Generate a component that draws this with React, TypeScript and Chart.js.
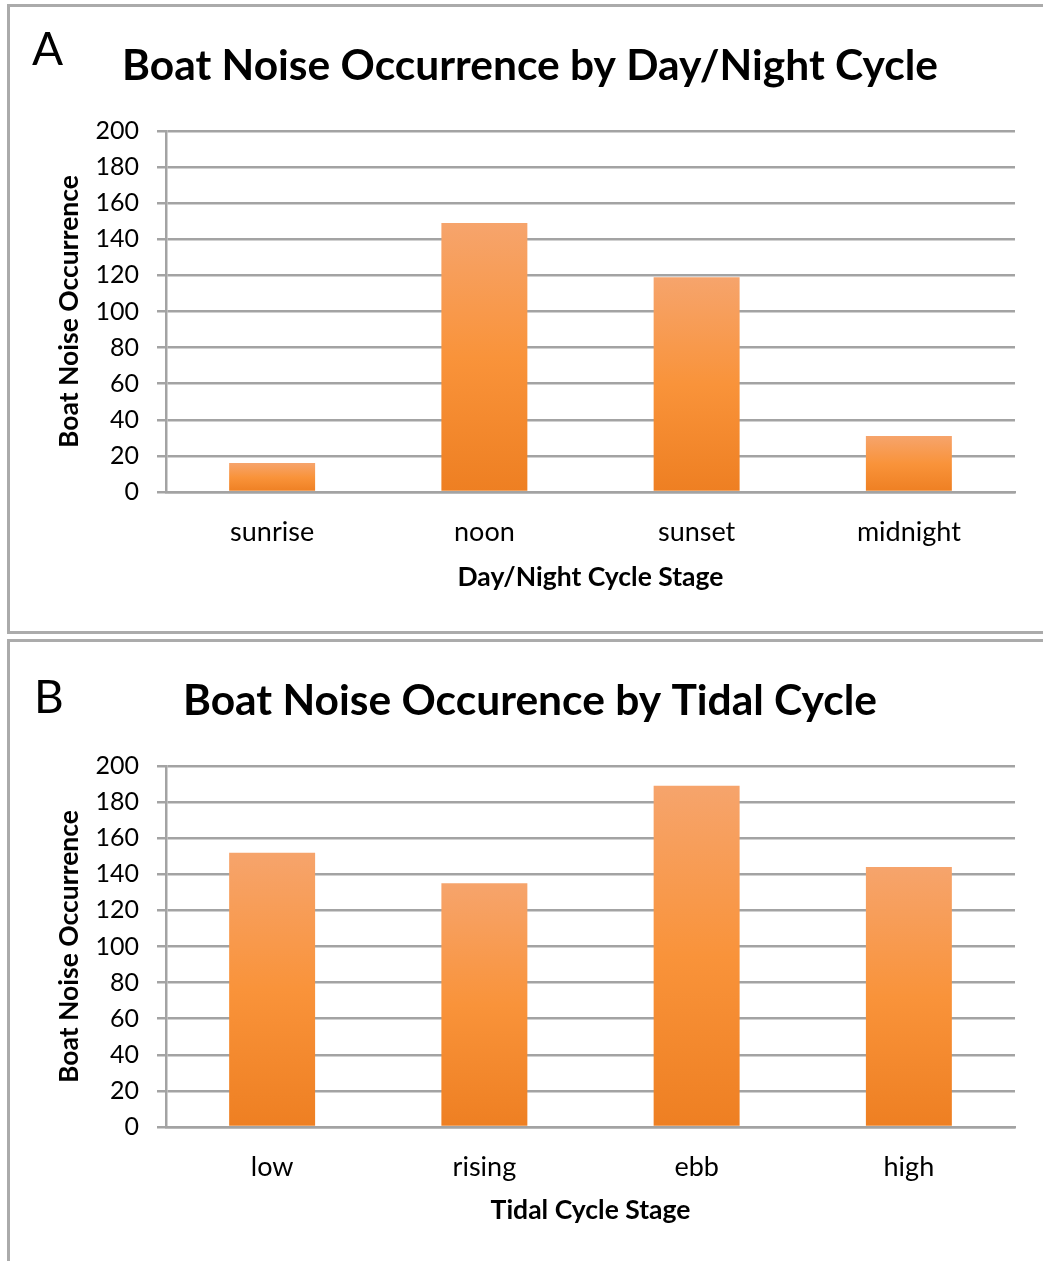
import React, { useEffect, useRef } from "react";
import { Chart, registerables } from "chart.js";

Chart.register(...registerables);

const dayCategories = ["sunrise", "noon", "sunset", "midnight"];
const dayValues = [16, 149, 119, 31];
const tideCategories = ["low", "rising", "ebb", "high"];
const tideValues = [152, 135, 189, 144];
const yMin = 0;
const yMax = 200;
const yStep = 20;

const FONT = "Lato, 'Open Sans', sans-serif";
const GRID = "#a3a3a3";
const PAD_LEFT = 35;

type PanelProps = {
  title: string;
  categories: string[];
  values: number[];
  xTitle: string;
  yTitle: string;
  width: number;
  height: number;
};

function BarPanel({ title, categories, values, xTitle, yTitle, width, height }: PanelProps) {
  const ref = useRef<HTMLCanvasElement | null>(null);
  useEffect(() => {
    if (!ref.current) return;
    const chart = new Chart(ref.current, {
      type: "bar",
      data: {
        labels: categories,
        datasets: [
          {
            data: values,
            barPercentage: 0.405,
            categoryPercentage: 1,
            borderWidth: 0,
            backgroundColor: (ctx: any) => {
              const c = ctx.chart;
              const y = c.scales && c.scales.y;
              if (!y || ctx.type !== "data") return "#f8923a";
              const top = y.getPixelForValue(ctx.raw as number);
              const bottom = y.getPixelForValue(0);
              if (!isFinite(top) || !isFinite(bottom) || top === bottom) return "#f8923a";
              const g = c.ctx.createLinearGradient(0, top, 0, bottom);
              g.addColorStop(0, "#f6a46c");
              g.addColorStop(0.5, "#f9933a");
              g.addColorStop(1, "#ee7f22");
              return g;
            },
          },
        ],
      },
      options: {
        responsive: false,
        maintainAspectRatio: false,
        animation: false,
        layout: { padding: { left: PAD_LEFT, right: 25, top: 0, bottom: 0 } },
        plugins: {
          legend: { display: false },
          tooltip: { enabled: false },
          title: {
            display: true,
            text: title,
            color: "#000",
            font: { family: FONT, size: 42.5, weight: "bold" },
            padding: { top: 33, bottom: 39 },
          },
        },
        scales: {
          x: {
            grid: { display: false },
            border: { display: true, color: GRID, width: 2.5 },
            ticks: {
              color: "#000",
              font: { family: FONT, size: 27 },
              padding: 16,
            },
            title: {
              display: true,
              text: xTitle,
              color: "#000",
              font: { family: FONT, size: 26.5, weight: "bold" },
              padding: { top: 0, bottom: 35 },
            },
            afterFit: (scale: any) => {
              scale.height = height - 484;
            },
          },
          y: {
            min: yMin,
            max: yMax,
            ticks: {
              stepSize: yStep,
              color: "#000",
              font: { family: FONT, size: 25 },
              padding: 18,
            },
            grid: { color: GRID, lineWidth: 2.5, tickLength: 9, drawTicks: true },
            border: { display: true, color: GRID, width: 2.5 },
            title: {
              display: true,
              text: yTitle,
              color: "#000",
              font: { family: FONT, size: 26.5, weight: "bold" },
              padding: { top: 9, bottom: 0 },
            },
            afterFit: (scale: any) => {
              scale.width = 156 - PAD_LEFT;
            },
          },
        },
      },
    } as any);
    return () => chart.destroy();
  }, []);
  return <canvas ref={ref} width={width} height={height} style={{ width, height, display: "block" }} />;
}

export default function App() {
  const panelBorder = "3px solid #ababab";
  return (
    <div
      style={{
        position: "absolute",
        left: 0,
        top: 0,
        width: 1043,
        height: 1261,
        overflow: "hidden",
        background: "#fff",
        fontFamily: FONT,
      }}
    >
      <div
        style={{
          position: "absolute",
          left: 7,
          top: 4,
          width: 1060,
          height: 630,
          boxSizing: "border-box",
          border: panelBorder,
        }}
      />
      <div
        style={{
          position: "absolute",
          left: 7,
          top: 639,
          width: 1060,
          height: 700,
          boxSizing: "border-box",
          border: panelBorder,
        }}
      />
      <div style={{ position: "absolute", left: 10, top: 8 }}>
        <BarPanel
          title="Boat Noise Occurrence by Day/Night Cycle"
          categories={dayCategories}
          values={dayValues}
          xTitle="Day/Night Cycle Stage"
          yTitle="Boat Noise Occurrence"
          width={1030}
          height={620}
        />
      </div>
      <div style={{ position: "absolute", left: 10, top: 643 }}>
        <BarPanel
          title="Boat Noise Occurence by Tidal Cycle"
          categories={tideCategories}
          values={tideValues}
          xTitle="Tidal Cycle Stage"
          yTitle="Boat Noise Occurrence"
          width={1030}
          height={618}
        />
      </div>
      <div style={{ position: "absolute", left: 32, top: 20, fontSize: 46, lineHeight: "56px", color: "#000" }}>A</div>
      <div style={{ position: "absolute", left: 34, top: 668, fontSize: 46, lineHeight: "56px", color: "#000" }}>B</div>
    </div>
  );
}
